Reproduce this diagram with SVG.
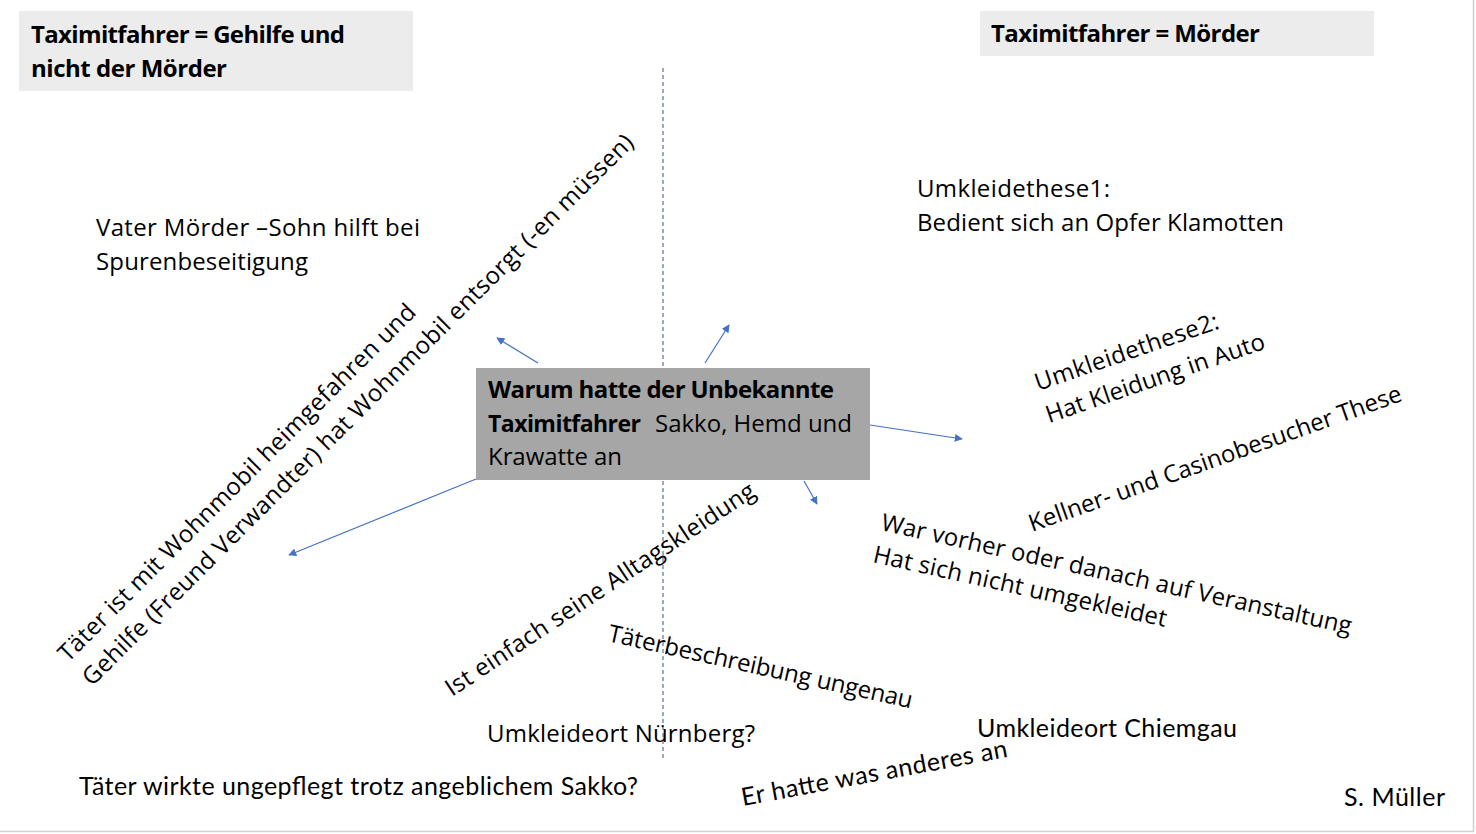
<svg xmlns="http://www.w3.org/2000/svg" width="1476" height="834" viewBox="0 0 1476 834">
<style>
.t{font-family:"Open Sans","Noto Sans",sans-serif;font-size:24px;fill:#000}
.b{font-weight:bold}
.c{font-family:Lato,"Open Sans",sans-serif;font-size:25px;fill:#000}
.hdr{fill:#ececec}
.ctr{fill:#a6a6a6}
.arr{stroke:#4472c4;stroke-width:1.2;fill:none;marker-end:url(#ah)}
</style>
<defs>
<marker id="ah" viewBox="0 0 10 10" refX="9" refY="5" markerWidth="8" markerHeight="8" markerUnits="userSpaceOnUse" orient="auto">
<path d="M0,0 L10,5 L0,10 z" fill="#4472c4"/>
</marker>
</defs>
<rect width="1476" height="834" fill="#fff"/>
<line x1="0" y1="831.5" x2="1474" y2="831.5" stroke="#d0d0d0" stroke-width="1.5"/>
<line x1="1473.5" y1="0" x2="1473.5" y2="832" stroke="#d0d0d0" stroke-width="1.5"/>
<line x1="663" y1="68" x2="663" y2="758" stroke="#3b5578" stroke-width="1" stroke-dasharray="4,3"/>

<g id="header-left">
<rect class="hdr" x="19" y="11" width="394" height="80"/>
<text class="t b" font-size="24.5"><tspan x="31" y="43" textLength="314">Taximitfahrer = Gehilfe und</tspan><tspan x="31" y="77" textLength="196">nicht der Mörder</tspan></text>
</g>
<g id="header-right">
<rect class="hdr" x="980" y="11" width="394" height="45"/>
<text class="t b" font-size="24.5" x="991" y="42" textLength="269">Taximitfahrer = Mörder</text>
</g>

<g id="connectors">
<line class="arr" x1="538" y1="363" x2="497" y2="338"/>
<line class="arr" x1="705" y1="363" x2="729" y2="325"/>
<line class="arr" x1="870" y1="425" x2="962" y2="439"/>
<line class="arr" x1="476" y1="479" x2="289" y2="555"/>
<line class="arr" x1="804" y1="481" x2="817" y2="504"/>
</g>

<g id="center">
<rect class="ctr" x="476" y="368" width="394" height="112"/>
<text class="t b" font-size="23" x="488" y="398" textLength="346">Warum hatte der Unbekannte</text>
<text class="t"><tspan class="b" font-size="23" x="488" y="432" textLength="153">Taximitfahrer</tspan><tspan x="655" y="432" textLength="197">Sakko, Hemd und</tspan></text>
<text class="t" x="488" y="465" textLength="134">Krawatte an</text>
</g>

<g id="vater">
<text class="t"><tspan x="96" y="236" textLength="324">Vater Mörder –Sohn hilft bei</tspan><tspan x="96" y="270" textLength="212">Spurenbeseitigung</tspan></text>
</g>

<g id="wohnmobil" transform="translate(68,663) rotate(-45)">
<text class="t"><tspan x="0" y="0" textLength="494">Täter ist mit Wohnmobil heimgefahren und</tspan><tspan x="0" y="34" textLength="768">Gehilfe (Freund Verwandter) hat Wohnmobil entsorgt (-en müssen)</tspan></text>
</g>

<g id="umkleide1">
<text class="t"><tspan x="917" y="197" textLength="193">Umkleidethese1:</tspan><tspan x="917" y="231" textLength="367">Bedient sich an Opfer Klamotten</tspan></text>
</g>

<g id="umkleide2" transform="translate(1038,391) rotate(-19)">
<text class="t"><tspan x="0" y="0" textLength="193">Umkleidethese2:</tspan><tspan x="0" y="34" textLength="230">Hat Kleidung in Auto</tspan></text>
</g>

<g id="kellner" transform="translate(1032,532) rotate(-19.5)">
<text class="t" textLength="394">Kellner- und Casinobesucher These</text>
</g>

<g id="veranstaltung" transform="translate(880,530) rotate(12.5)">
<text class="t"><tspan x="0" y="0" textLength="481">War vorher oder danach auf Veranstaltung</tspan><tspan x="-1" y="33" textLength="300">Hat sich nicht umgekleidet</tspan></text>
</g>

<g id="alltag" transform="translate(452,697) rotate(-33.5)">
<text class="t" textLength="366">Ist einfach seine Alltagskleidung</text>
</g>

<g id="taeterbeschreibung" transform="translate(607,641) rotate(12.5)">
<text class="t" textLength="311">Täterbeschreibung ungenau</text>
</g>

<g id="nuernberg">
<text class="t" x="487" y="742" textLength="268">Umkleideort Nürnberg?</text>
</g>

<g id="ungepflegt">
<text class="c" x="79" y="795" textLength="559">Täter wirkte ungepflegt trotz angeblichem Sakko?</text>
</g>

<g id="chiemgau">
<text class="c" x="977" y="737" textLength="260">Umkleideort Chiemgau</text>
</g>

<g id="anderes" transform="translate(743,806) rotate(-10.5)">
<text class="c" textLength="270">Er hatte was anderes an</text>
</g>

<g id="autor">
<text class="c" x="1344" y="806" textLength="101">S. Müller</text>
</g>
</svg>
